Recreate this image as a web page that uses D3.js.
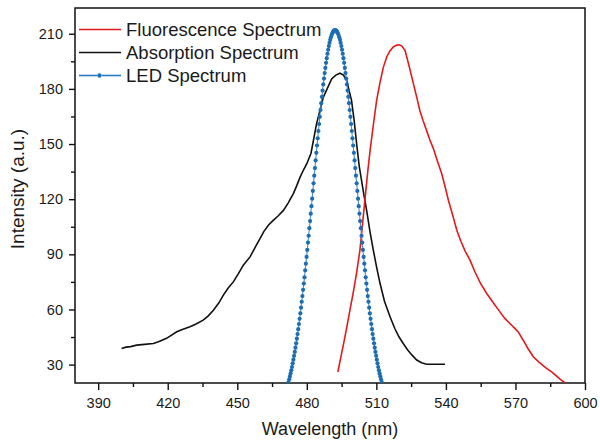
<!DOCTYPE html>
<html><head><meta charset="utf-8">
<script src="https://cdn.jsdelivr.net/npm/d3@7"></script>
<style>
body{margin:0;background:#fff}
svg{display:block}
text{font-family:"Liberation Sans",Arial,Helvetica,sans-serif;fill:#1a1a1a}
</style>
</head><body>
<svg id="chart" width="600" height="443"></svg>
<script>
// ---- data ----
const xTickValues = [390, 420, 450, 480, 510, 540, 570, 600];
const xMinorTicks = [405, 435, 465, 495, 525, 555, 585];
const yTickValues = [30, 60, 90, 120, 150, 180, 210];
const yMinorTicks = [45, 75, 105, 135, 165, 195];
const seriesNames = ["Fluorescence Spectrum", "Absorption Spectrum", "LED Spectrum"];

const fluorWavelength = [493.4,494.5,495.8,497.2,498.6,500,501.5,502.9,504,505.1,506.2,507.3,508.7,510.1,511.5,513,514.5,515.9,517.3,518.8,519.8,521,522.4,524.2,526,527.4,528.8,530.2,531.7,533,534.6,536.4,538.2,539.7,541.1,543,544.7,546.5,548.4,550.4,552.5,555,557.6,560.5,563.3,565.5,567.5,569.5,571.2,573.5,575.5,577.7,580,583.4,585.5,587.5,589.5,591.4];
const fluorIntensity  = [26,33,41,50,59.6,69,80,92.2,106,120,134,146.5,160.5,173.6,183,191.7,197.5,200.8,202.8,203.8,204,203.3,200.8,192,182.7,175.5,168,162.5,157.3,152.5,147.5,140.5,133.8,126.5,119.3,111,103.1,97,91.5,86.8,80.5,74,68.7,63.5,58.7,55,52.5,50,47.8,43,38.5,34.3,31.5,28,26.2,24,21.8,20];

const absWavelength = [400.1,402,404,406.6,410,413.8,416,419.5,423.9,426,429.6,432,435.3,437.5,439.7,442,444,446,448.3,450.5,452.6,455.5,458,459.8,461.5,463.5,465.5,467.7,469.9,472,474.2,475.7,477.1,478.6,480,481.8,484.2,487.1,490.7,492.5,494.3,495.8,497.2,499.3,500.4,501.5,502.6,503.5,504.3,505.8,507.3,508.7,510.1,511.6,513.5,515.9,518,519.8,521.6,523.5,525.5,527.4,529.5,531.7,535,539.6];
const absIntensity  = [38.8,39.5,39.8,40.6,41,41.5,42.5,44.3,47.9,49,50.6,52,54.2,56.5,59.6,63.5,67.8,71.5,75,79.5,84.1,88.6,94.5,98.6,102.5,106,108.5,111,113.9,118,123,127.5,132,136,139.3,145,161,175.4,185.4,187.5,188.5,187.5,184.5,173.6,163,150,138,131,124.8,113.9,102,92.2,83,74.1,64.5,56,49.5,45,41.5,38,35,32.5,31,30.2,30.2,30.2];

const ledStart = 471.8, ledStep = 0.3;
const ledIntensity = [19.1,20.5,22.0,23.6,25.2,26.9,28.7,30.7,32.7,34.8,36.9,39.2,41.6,44.1,46.6,49.3,52.1,54.9,57.9,61.0,64.2,67.3,70.7,74.1,77.5,81.3,84.9,88.6,92.4,96.4,100.1,104.2,108.1,112.1,116.2,120.3,124.5,128.6,132.8,136.9,141.1,145.2,149.2,153.1,157.1,160.9,164.8,168.5,172.2,175.7,179.1,182.4,185.6,188.6,191.4,194.2,196.7,199.1,201.3,203.3,205.1,206.7,208.1,209.3,210.2,211.0,211.6,211.9,212.0,
211.9,211.6,211.0,210.2,209.3,208.1,206.7,205.1,203.3,201.3,199.1,196.7,194.2,191.4,188.6,185.6,182.4,179.1,175.7,172.2,168.5,164.8,160.9,157.1,153.1,149.2,145.2,141.1,136.9,132.8,128.6,124.5,120.3,116.2,112.1,108.1,104.2,100.1,96.4,92.4,88.6,84.9,81.3,77.5,74.1,70.7,67.3,64.2,61.0,57.9,54.9,52.1,49.3,46.6,44.1,41.6,39.2,36.9,34.8,32.7,30.7,28.7,26.9,25.2,23.6,22.0,20.5,19.1];

// ---- chart ----
const RED = "#e31a1c", BLACK = "#111", BLUE = "#1c6db4", BLUE_LINE = "#4a90cc";
const svg = d3.select("#chart");
const L = 75, R = 585, T = 8, B = 383;
const x = d3.scaleLinear().domain([380, 600]).range([L, R]);
const y = d3.scaleLinear().domain([20, 224]).range([B, T]);

svg.append("defs").append("clipPath").attr("id", "clip")
  .append("rect").attr("x", L).attr("y", T).attr("width", R - L).attr("height", B - T);

// axes
const gx = svg.append("g").attr("transform", `translate(0,${B})`)
  .call(d3.axisBottom(x).tickValues(xTickValues).tickSize(7).tickPadding(8).tickFormat(d3.format("d")));
const gxm = svg.append("g").attr("transform", `translate(0,${B})`)
  .call(d3.axisBottom(x).tickValues(xMinorTicks).tickSize(4).tickFormat(""));
const gy = svg.append("g").attr("transform", `translate(${L},0)`)
  .call(d3.axisLeft(y).tickValues(yTickValues).tickSize(6).tickPadding(6).tickFormat(d3.format("d")));
const gym = svg.append("g").attr("transform", `translate(${L},0)`)
  .call(d3.axisLeft(y).tickValues(yMinorTicks).tickSize(4).tickFormat(""));
[gx, gxm, gy, gym].forEach(g => {
  g.select(".domain").remove();
  g.selectAll("line").attr("stroke", "#111").attr("stroke-width", 1.4);
  g.selectAll("text").style("font-size", "14.5px").attr("fill", "#1a1a1a");
});

// frame
svg.append("rect").attr("x", L).attr("y", T).attr("width", R - L).attr("height", B - T)
  .attr("fill", "none").attr("stroke", "#111").attr("stroke-width", 1.5);

// axis titles
svg.append("text").attr("x", (L + R) / 2).attr("y", 435).attr("text-anchor", "middle")
  .style("font-size", "18px").text("Wavelength (nm)");
svg.append("text").attr("transform", `translate(24,189) rotate(-90)`).attr("text-anchor", "middle")
  .style("font-size", "19px").text("Intensity (a.u.)");

// series
const plot = svg.append("g").attr("clip-path", "url(#clip)");
const line = d3.line().x(d => x(d[0])).y(d => y(d[1]));

const fluor = fluorWavelength.map((w, i) => [w, fluorIntensity[i]]);
const absn = absWavelength.map((w, i) => [w, absIntensity[i]]);
const led = ledIntensity.map((v, i) => [ledStart + i * ledStep, v]);

plot.append("path").datum(absn).attr("d", line).attr("fill", "none").attr("stroke", BLACK).attr("stroke-width", 1.6);
plot.append("path").datum(fluor).attr("d", line).attr("fill", "none").attr("stroke", RED).attr("stroke-width", 1.6);
plot.append("path").datum(led).attr("d", line).attr("fill", "none").attr("stroke", BLUE_LINE).attr("stroke-width", 1.1);
plot.selectAll("circle.led").data(led).join("circle").attr("class", "led")
  .attr("cx", d => x(d[0])).attr("cy", d => y(d[1])).attr("r", 2.1).attr("fill", BLUE);

// legend
const legend = svg.append("g");
const rows = [
  {name: seriesNames[0], color: RED, dot: false, yy: 29.5},
  {name: seriesNames[1], color: BLACK, dot: false, yy: 52.5},
  {name: seriesNames[2], color: BLUE_LINE, dot: true, yy: 75.5}
];
rows.forEach(r => {
  if (r.dot) {
    legend.append("line").attr("x1", 79).attr("x2", 97).attr("y1", r.yy).attr("y2", r.yy).attr("stroke", "#2a7bbf").attr("stroke-width", 1.6);
    legend.append("line").attr("x1", 102).attr("x2", 121).attr("y1", r.yy).attr("y2", r.yy).attr("stroke", "#2a7bbf").attr("stroke-width", 1.6);
    legend.append("circle").attr("cx", 99.5).attr("cy", r.yy).attr("r", 2.2).attr("fill", BLUE);
  } else {
    legend.append("line").attr("x1", 79).attr("x2", 121).attr("y1", r.yy).attr("y2", r.yy).attr("stroke", r.color).attr("stroke-width", 1.6);
  }
  legend.append("text").attr("x", 126).attr("y", r.yy + 6.3).style("font-size", "18.5px").text(r.name);
});
</script>
</body></html>
